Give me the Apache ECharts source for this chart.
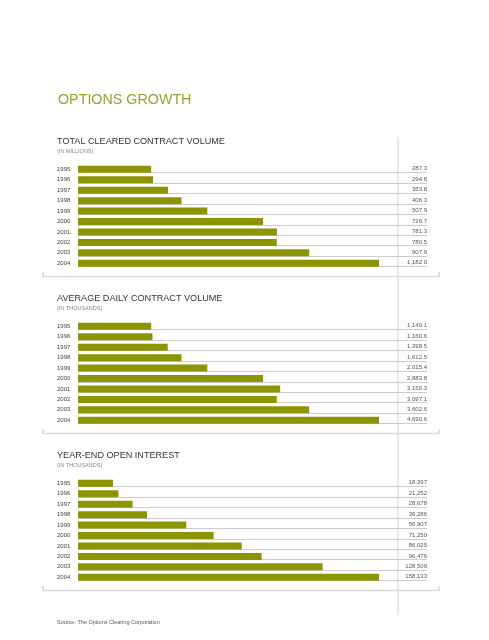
<!DOCTYPE html>
<html><head><meta charset="utf-8">
<script src="https://cdn.jsdelivr.net/npm/echarts@6/dist/echarts.min.js"></script>
<style>html,body{margin:0;padding:0;background:#fff}#c{width:489px;height:640px}</style>
</head><body><div id="c"></div>
<script>
const years = ['1995','1996','1997','1998','1999','2000','2001','2002','2003','2004'];
const totalCleared = [287.3,294.8,353.8,406.3,507.9,726.7,781.3,780.5,907.9,1182.0];
const avgDaily = [1140.1,1160.6,1398.5,1612.5,2015.4,2883.8,3150.3,3097.1,3602.6,4690.6];
const openInterest = [18397,21252,28678,36286,56907,71250,86025,96476,128509,158133];
const panelTitles = ['TOTAL CLEARED CONTRACT VOLUME','AVERAGE DAILY CONTRACT VOLUME','YEAR-END OPEN INTEREST'];
const panelUnits = ['(IN MILLIONS)','(IN THOUSANDS)','(IN THOUSANDS)'];
const panelDecimals = [1,1,0];
const mainTitle = 'OPTIONS GROWTH';
const sourceText = 'Source: The Options Clearing Corporation';

const panels = [totalCleared, avgDaily, openInterest];
const FONT = '"Liberation Sans", Arial, Helvetica, sans-serif';
const BAR = '#8c9400';
const STEP = 157;

const grid = [], xAxis = [], yAxis = [], series = [], graphic = [];

graphic.push({type:'text', left:58, top:93, style:{text:mainTitle, fill:'#9aa22e', font:'14.3px ' + FONT}});
graphic.push({type:'line', shape:{x1:398, y1:137, x2:398, y2:615}, style:{stroke:'#e2e2e2', lineWidth:1.5}, z:-1});
graphic.push({type:'text', left:57, top:619, style:{text:sourceText, fill:'#555', font:'5.5px ' + FONT}});

panels.forEach((vals, i) => {
  const off = STEP * i;
  const dec = panelDecimals[i];
  const vmax = Math.max(...vals);
  grid.push({left:78, right:110, top:164.1 + off, height:104.4});
  xAxis.push({gridIndex:i, type:'value', min:0, max:vmax, show:false});
  yAxis.push({gridIndex:i, type:'category', data:years, inverse:true,
    axisLine:{show:false}, axisTick:{show:false}, splitLine:{show:false},
    axisLabel:{align:'left', margin:21, fontSize:6, color:'#444', fontFamily:FONT}});
  series.push({type:'custom', xAxisIndex:i, yAxisIndex:i, z:1, silent:true,
    data: vals.map((v, k) => [v, k]),
    encode:{x:0, y:1},
    renderItem:(params, api) => {
      const k = api.value(1);
      const v = api.value(0);
      const p0 = api.coord([0, k]);
      const pEnd = api.coord([vmax, k]);
      const xr = pEnd[0] + 48;
      const yl = Math.round(p0[1] + 3) + 0.5;
      return {type:'group', children:[
        {type:'line', shape:{x1:p0[0], y1:yl, x2:xr, y2:yl}, style:{stroke:'#cccccc', lineWidth:1}},
        {type:'text', style:{text: v.toLocaleString('en-US',{minimumFractionDigits:dec, maximumFractionDigits:dec}),
          x:xr, y:p0[1] - 0.5, align:'right', verticalAlign:'middle', fill:'#555', font:'6px ' + FONT}}
      ]};
    }});
  series.push({type:'bar', xAxisIndex:i, yAxisIndex:i, z:3, data:vals, barWidth:7,
    itemStyle:{color:BAR}, silent:true});
  graphic.push({type:'text', left:57, top:137 + off, style:{text:panelTitles[i], fill:'#333', font:'9.1px ' + FONT}});
  graphic.push({type:'text', left:57, top:148.3 + off, style:{text:panelUnits[i], fill:'#888', font:'5.5px ' + FONT}});
  graphic.push({type:'polyline', shape:{points:[[43,272 + off],[43,276.5 + off],[439,276.5 + off],[439,272 + off]]},
    style:{stroke:'#dadada', lineWidth:1.6, fill:null}});
});

const chart = echarts.init(document.getElementById('c'), null, {renderer:'canvas'});
chart.setOption({animation:false, backgroundColor:'#fff', grid, xAxis, yAxis, series, graphic});
</script></body></html>
